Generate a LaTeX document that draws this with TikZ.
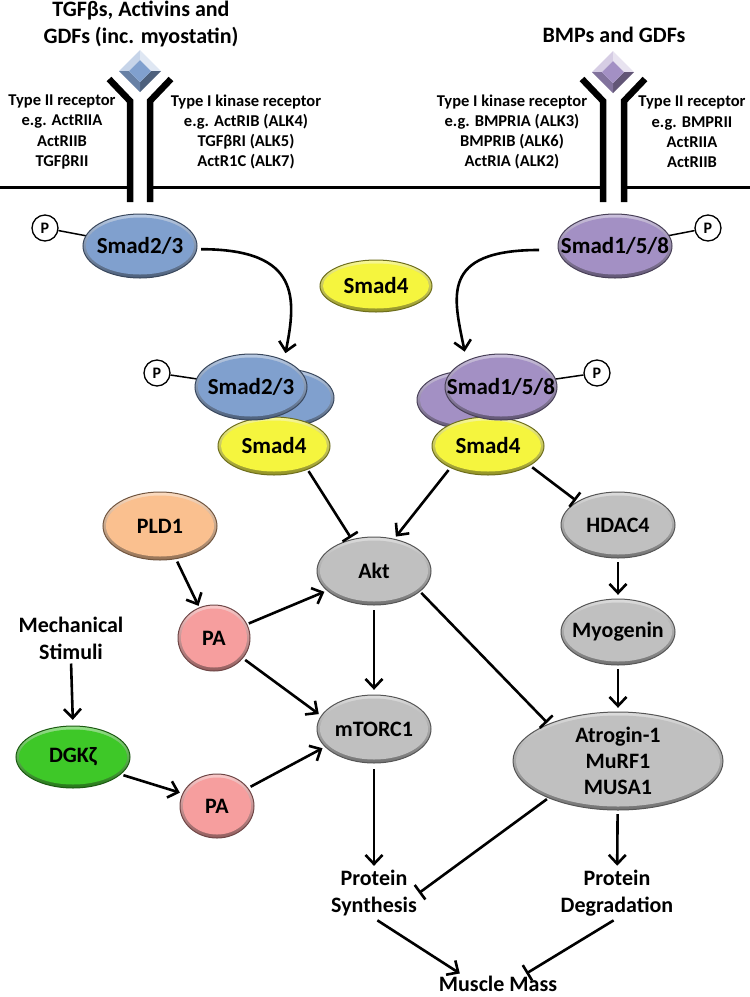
\documentclass[tikz,border=0pt]{standalone}
\usepackage{fontspec}
\setmainfont{Carlito}
\usetikzlibrary{arrows.meta,shapes.geometric,calc}
\definecolor{cblue}{RGB}{128,160,206}
\definecolor{cpurple}{RGB}{163,144,196}
\definecolor{cyellow}{RGB}{245,245,62}
\definecolor{cgray}{RGB}{192,192,192}
\definecolor{corange}{RGB}{250,192,143}
\definecolor{cpink}{RGB}{246,158,158}
\definecolor{cgreen}{RGB}{62,200,40}
\newcommand\gemstone[3]{%
\begin{scope}[shift={(#1,#2)}]
\fill[#3!45!white] (-21,0) -- (0,-21) -- (0,-11) -- (-11,0) -- cycle;
\fill[#3!25!white] (0,-21) -- (21,0) -- (11,0) -- (0,-11) -- cycle;
\fill[#3!60!black] (21,0) -- (0,21) -- (0,11) -- (11,0) -- cycle;
\fill[#3!80!black] (0,21) -- (-21,0) -- (-11,0) -- (0,11) -- cycle;
\fill[#3] (0,-11) -- (11,0) -- (0,11) -- (-11,0) -- cycle;
\end{scope}}
% name, x, y, rx, ry, colour, node options, text
\newcommand\cellnode[8]{%
\path[draw=#6!45!black, line width=1pt, top color=#6!55!white, bottom color=#6!60!black]
  (#2,#3) ellipse [x radius=#4, y radius=#5];
\fill[#6] (#2,#3) ellipse [x radius=#4-3, y radius=#5-3.5];
\node[cellbox, minimum width={2*#4}, minimum height={2*#5}, #7] (#1) at (#2,#3) {#8};}
\tikzset{
  cellbox/.style={ellipse, inner sep=0pt, font=\fontsize{22}{26}\selectfont\bfseries},
  smadtext/.style={font=\fontsize{23}{26}\selectfont\bfseries},
  plain/.style={align=center, inner sep=2pt, font=\fontsize{22}{27}\selectfont\bfseries},
  small/.style={align=center, inner sep=1pt, font=\fontsize{16.5}{20.3}\selectfont\bfseries},
  pcirc/.style={circle, draw, line width=1.3pt, fill=white, minimum size=26pt,
    inner sep=0pt, font=\fontsize{16}{18}\selectfont\bfseries},
  plink/.style={line width=1.5pt},
  act/.style={line width=2.6pt, -{Straight Barb[length=9pt,width=17pt]}},
  inh/.style={line width=2.6pt, -{Bar[width=18pt]}},
  rec/.style={line width=6.5pt, line join=miter}
}
\begin{document}
\begin{tikzpicture}[x=1pt,y=-1pt]
\useasboundingbox (0,0) rectangle (750,997);
% membrane
\draw[line width=3pt] (0,187) -- (127,187);
\draw[line width=3pt] (153,187) -- (600,187);
\draw[line width=3pt] (627,187) -- (750,187);
% receptors
\draw[rec] (130,202) -- (130,101) -- (109,79);
\draw[rec] (150,202) -- (150,101) -- (171,79);
\draw[rec] (603,202) -- (603,101) -- (582,79);
\draw[rec] (624,202) -- (624,101) -- (645,79);
\gemstone{140}{71}{cblue}
\gemstone{613}{72}{cpurple}
% titles and labels
\node[plain] (tgf) at (141,24) {TGFβs, Activins and\\GDFs (inc. myostatin)};
\node[plain] (bmp) at (614,35) {BMPs and GDFs};
\node[small] (l1) at (62,132) {Type II receptor\\e.g. ActRIIA\\ActRIIB\\TGFβRII};
\node[small] (l2) at (246,132) {Type I kinase receptor\\e.g. ActRIB (ALK4)\\TGFβRI (ALK5)\\ActR1C (ALK7)};
\node[small] (l3) at (512,132) {Type I kinase receptor\\e.g. BMPRIA (ALK3)\\BMPRIB (ALK6)\\ActRIA (ALK2)};
\node[small] (l4) at (692,132) {Type II receptor\\e.g. BMPRII\\ActRIIA\\ActRIIB};
% top smads
\node[pcirc] (p1) at (45,228) {P};
\node[pcirc] (p2) at (708,228) {P};
\draw[plink] (p1) -- (140,246);
\draw[plink] (p2) -- (615,246);
\cellnode{s23}{140}{246}{57}{32}{cblue}{smadtext}{Smad2/3}
\cellnode{s158}{615}{246}{57}{32}{cpurple}{smadtext}{Smad1/5/8}
\cellnode{s4}{376}{286}{56}{26}{cyellow}{smadtext}{Smad4}
% complexes
\node[pcirc] (p3) at (157,373) {P};
\node[pcirc] (p4) at (597,373) {P};
\draw[plink] (p3) -- (251,387);
\draw[plink] (p4) -- (501,387);
\cellnode{bs23}{284}{398}{50}{29}{cblue}{}{}
\cellnode{bs158}{467}{400}{50}{29}{cpurple}{}{}
\cellnode{s4l}{274}{446}{56}{29}{cyellow}{smadtext}{Smad4}
\cellnode{s4r}{488}{446}{56}{29}{cyellow}{smadtext}{Smad4}
\cellnode{fs23}{251}{387}{56}{33}{cblue}{smadtext}{Smad2/3}
\cellnode{fs158}{501}{387}{56}{33}{cpurple}{smadtext}{Smad1/5/8}
\draw[act, shorten >=6pt] (s23.-3) .. controls +(100,0) and +(12,-60) .. (fs23.40);
\draw[act, shorten >=6pt] (s158.183) .. controls +(-100,0) and +(-12,-60) .. (fs158.140);
% lower network
\cellnode{pld}{160}{526}{57}{34}{corange}{}{PLD1}
\cellnode{pa1}{214}{638}{36}{33}{cpink}{}{PA}
\cellnode{akt}{374}{571}{57}{34}{cgray}{}{Akt}
\cellnode{mtor}{374}{729}{57}{34}{cgray}{}{mTORC1}
\cellnode{dgk}{73}{757}{57}{31}{cgreen}{}{DGKζ}
\cellnode{pa2}{217}{806}{37}{32}{cpink}{}{PA}
\cellnode{hdac}{618}{525}{57}{33}{cgray}{}{HDAC4}
\cellnode{myog}{618}{632}{57}{33}{cgray}{}{Myogenin}
\cellnode{atro}{618}{761}{105}{49}{cgray}{align=center}{Atrogin-1\\MuRF1\\MUSA1}
\node[plain] (mech) at (71,638) {Mechanical\\Stimuli};
\node[plain] (psyn) at (374,893) {Protein\\Synthesis};
\node[plain] (pdeg) at (617,893) {Protein\\Degradation};
\node[plain] (mm) at (498,984) {Muscle Mass};
% connectors
\draw[act, shorten <=2pt, shorten >=6pt] (mech.south) -- (dgk.north);
\draw[act, shorten <=3pt, shorten >=2pt] (pld) -- (pa1);
\draw[act, shorten <=2pt, shorten >=3pt] (pa1) -- (akt);
\draw[act, shorten <=3pt, shorten >=3pt] (pa1.-35) -- (mtor.166);
\draw[act, shorten <=5pt, shorten >=5pt] (akt) -- (mtor);
\draw[act, shorten <=3pt, shorten >=3pt] (dgk.-20) -- (pa2.160);
\draw[act, shorten <=3pt, shorten >=3pt] (pa2.30) -- (mtor.200);
\draw[act, shorten <=6pt, shorten >=2pt] (mtor) -- (psyn);
\draw[inh, shorten <=2pt, shorten >=2pt] (s4l.-35) -- (akt.125);
\draw[act, shorten <=3pt, shorten >=3pt] (s4r.-150) -- (akt.58);
\draw[inh, shorten <=3pt, shorten >=2pt] (s4r.-25) -- (hdac.150);
\draw[act, shorten <=4pt, shorten >=4pt] (hdac) -- (myog);
\draw[act, shorten <=4pt, shorten >=4pt] (myog) -- (atro);
\draw[inh, shorten <=2pt, shorten >=2pt] (akt.-24) -- (atro.152);
\draw[inh, shorten <=2pt] (atro.-152) -- (psyn.east);
\draw[act, shorten <=4pt, shorten >=2pt] (atro) -- (pdeg);
\draw[act, shorten <=4pt, shorten >=1pt] (psyn.south) -- (mm.165);
\draw[inh, shorten <=4pt, shorten >=1pt] (pdeg.south) -- (mm.20);
\end{tikzpicture}
\end{document}
